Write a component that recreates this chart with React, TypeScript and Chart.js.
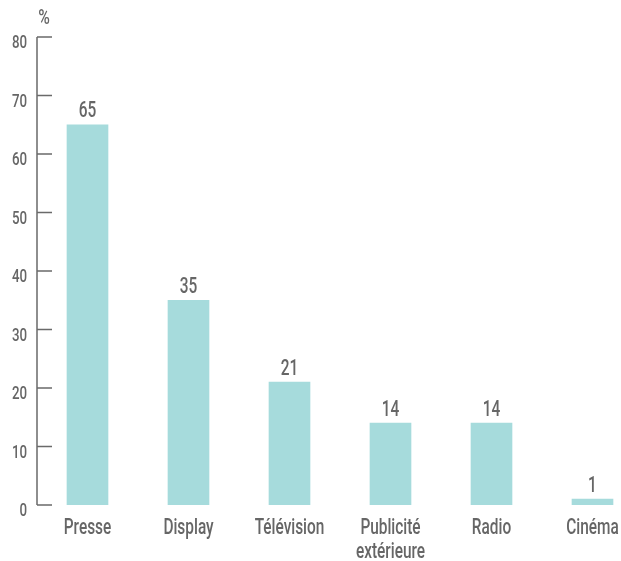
import { useEffect, useRef } from "react";
import { Chart, registerables } from "chart.js";

Chart.register(...registerables);

const categories: string[][] = [["Presse"], ["Display"], ["Télévision"], ["Publicité", "extérieure"], ["Radio"], ["Cinéma"]];
const values: number[] = [65, 35, 21, 14, 14, 1];
const yMin = 0;
const yMax = 80;
const yStep = 10;
const unitLabel = "%";

const BAR_COLOR = "#a6dbdc";
const TEXT_COLOR = "#666666";
const AXIS_COLOR = "#6a6a6a";
const FONT = "Roboto, 'DejaVu Sans Condensed', sans-serif";
const SX = 0.7;

function drawText(ctx: CanvasRenderingContext2D, text: string, x: number, y: number, align: CanvasTextAlign, sx: number = SX) {
  ctx.save();
  ctx.translate(x, y);
  ctx.scale(sx, 1);
  ctx.textAlign = align;
  ctx.textBaseline = "alphabetic";
  ctx.fillText(text, 0, 0);
  ctx.restore();
}

const overlayPlugin = {
  id: "overlay",
  afterDraw(chart: any) {
    const { ctx, chartArea, scales } = chart;
    const y = scales.y;
    const x = scales.x;
    const left = chartArea.left;
    ctx.save();
    // axis line + inward ticks
    ctx.strokeStyle = AXIS_COLOR;
    ctx.lineWidth = 1.5;
    ctx.beginPath();
    ctx.moveTo(left, y.getPixelForValue(yMax));
    ctx.lineTo(left, y.getPixelForValue(yMin));
    y.ticks.forEach((t: any) => {
      const py = y.getPixelForValue(t.value);
      ctx.moveTo(left, py);
      ctx.lineTo(left + 15, py);
    });
    ctx.stroke();

    ctx.fillStyle = TEXT_COLOR;
    // y tick labels
    ctx.font = `500 19px ${FONT}`;
    y.ticks.forEach((t: any) => {
      const py = y.getPixelForValue(t.value);
      drawText(ctx, String(t.value), left - 10, py + 11, "right");
    });

    // unit label
    ctx.font = `500 21px ${FONT}`;
    drawText(ctx, unitLabel, left + 7, 24, "center", 0.75);

    // value labels
    ctx.font = `500 22px ${FONT}`;
    const meta = chart.getDatasetMeta(0);
    meta.data.forEach((bar: any, i: number) => {
      drawText(ctx, String(values[i]), bar.x, bar.y - 7.5, "center");
    });

    // category labels
    ctx.font = `500 22px ${FONT}`;
    const base = chartArea.bottom;
    categories.forEach((lines, i) => {
      const px = x.getPixelForValue(i);
      lines.forEach((line, j) => {
        drawText(ctx, line, px, base + 29 + j * 24, "center");
      });
    });
    ctx.restore();
  },
};

export default function App() {
  const ref = useRef<HTMLCanvasElement | null>(null);

  useEffect(() => {
    if (!ref.current) return;
    const chart = new Chart(ref.current, {
      type: "bar",
      data: {
        labels: categories.map((c) => c.join(" ")),
        datasets: [
          {
            data: values,
            backgroundColor: BAR_COLOR,
            barThickness: 41,
          },
        ],
      },
      options: {
        animation: false,
        responsive: false,
        layout: { padding: { top: 37, left: 0, right: 0, bottom: 0 } },
        plugins: {
          legend: { display: false },
          tooltip: { enabled: false },
        },
        scales: {
          x: {
            grid: { display: false, drawTicks: false },
            border: { display: false },
            ticks: { display: false },
            afterFit: (scale: any) => {
              scale.height = 56;
            },
          },
          y: {
            min: yMin,
            max: yMax,
            grid: { display: false, drawTicks: false },
            border: { display: false },
            ticks: { display: false, stepSize: yStep },
            afterFit: (scale: any) => {
              scale.width = 37;
            },
          },
        },
      },
      plugins: [overlayPlugin],
    });
    return () => chart.destroy();
  }, []);

  return (
    <div style={{ position: "absolute", left: 0, top: 0, width: 621, height: 561, overflow: "hidden", background: "#fff" }}>
      <canvas ref={ref} width={643} height={561} style={{ display: "block" }} />
    </div>
  );
}
